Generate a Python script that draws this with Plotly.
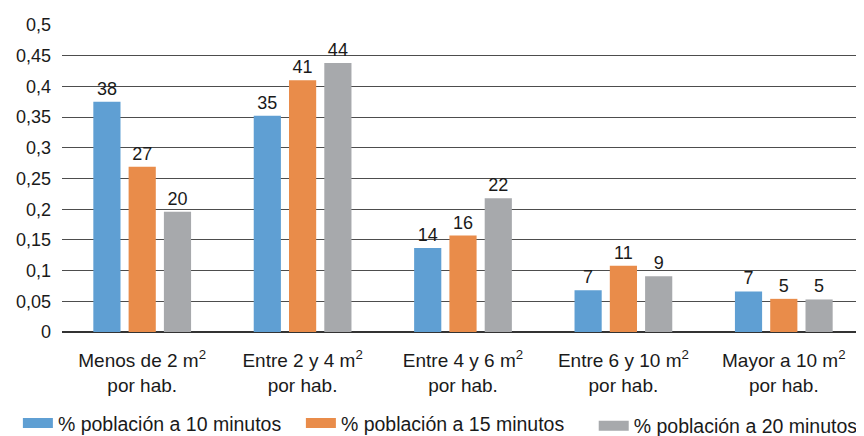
import plotly.graph_objects as go

# ==========================================
# Data
# ==========================================

categories = [
    "Menos de 2 m<sup>2</sup><br>por hab.",
    "Entre 2 y 4 m<sup>2</sup><br>por hab.",
    "Entre 4 y 6 m<sup>2</sup><br>por hab.",
    "Entre 6 y 10 m<sup>2</sup><br>por hab.",
    "Mayor a 10 m<sup>2</sup><br>por hab.",
]

series_names = [
    "% población a 10 minutos",
    "% población a 15 minutos",
    "% población a 20 minutos",
]

values_10 = [0.375, 0.352, 0.137, 0.068, 0.066]
values_15 = [0.269, 0.410, 0.157, 0.108, 0.054]
values_20 = [0.196, 0.438, 0.218, 0.091, 0.053]

labels_10 = ["38", "35", "14", "7", "7"]
labels_15 = ["27", "41", "16", "11", "5"]
labels_20 = ["20", "44", "22", "9", "5"]

COLORS = ["#5f9fd3", "#e98c4a", "#a7a9ac"]
LEGENDS = ["legend", "legend", "legend2"]
FONT = "Liberation Sans, Arial, sans-serif"

# ==========================================
# Figure
# ==========================================

fig = go.Figure()

for name, vals, labs, color, leg in zip(
    series_names,
    [values_10, values_15, values_20],
    [labels_10, labels_15, labels_20],
    COLORS,
    LEGENDS,
):
    fig.add_trace(
        go.Bar(
            x=categories,
            y=vals,
            name=name,
            text=labs,
            textposition="outside",
            textfont=dict(size=18, color="#1a1a1a"),
            marker=dict(color=color, line=dict(width=0)),
            cliponaxis=False,
            showlegend=False,
        )
    )
    # legend swatch: wide flat rectangle like the original
    fig.add_trace(
        go.Scatter(
            x=[None],
            y=[None],
            mode="lines",
            name=name,
            line=dict(color=color, width=12),
            legend=leg,
            showlegend=True,
        )
    )

legend_style = dict(
    orientation="h",
    xanchor="left",
    yanchor="top",
    entrywidth=238,
    font=dict(size=19.5),
    traceorder="normal",
)

# page body adds an 8px offset, so the figure is 856x428
fig.update_layout(
    width=856,
    height=428,
    barmode="group",
    bargap=0.34,
    bargroupgap=0.23,
    separators=",.",
    paper_bgcolor="white",
    plot_bgcolor="white",
    font=dict(family=FONT, size=18, color="#1a1a1a"),
    margin=dict(l=54, r=0, t=17, b=104, autoexpand=False),
    showlegend=True,
    legend=dict(x=-0.055, y=-0.234, **legend_style),
    legend2=dict(x=0.663, y=-0.243, **legend_style),
)

fig.update_xaxes(
    showgrid=False,
    showline=False,
    ticks="",
    ticklabelstandoff=15,
    tickfont=dict(size=19),
)

fig.update_yaxes(
    range=[0, 0.5],
    dtick=0.05,
    showgrid=True,
    gridcolor="#4d4d4d",
    gridwidth=1,
    zeroline=True,
    zerolinecolor="#333333",
    zerolinewidth=1.5,
    ticks="",
    ticklabelstandoff=10,
    tickfont=dict(size=18),
)

fig.write_html("out.html")
